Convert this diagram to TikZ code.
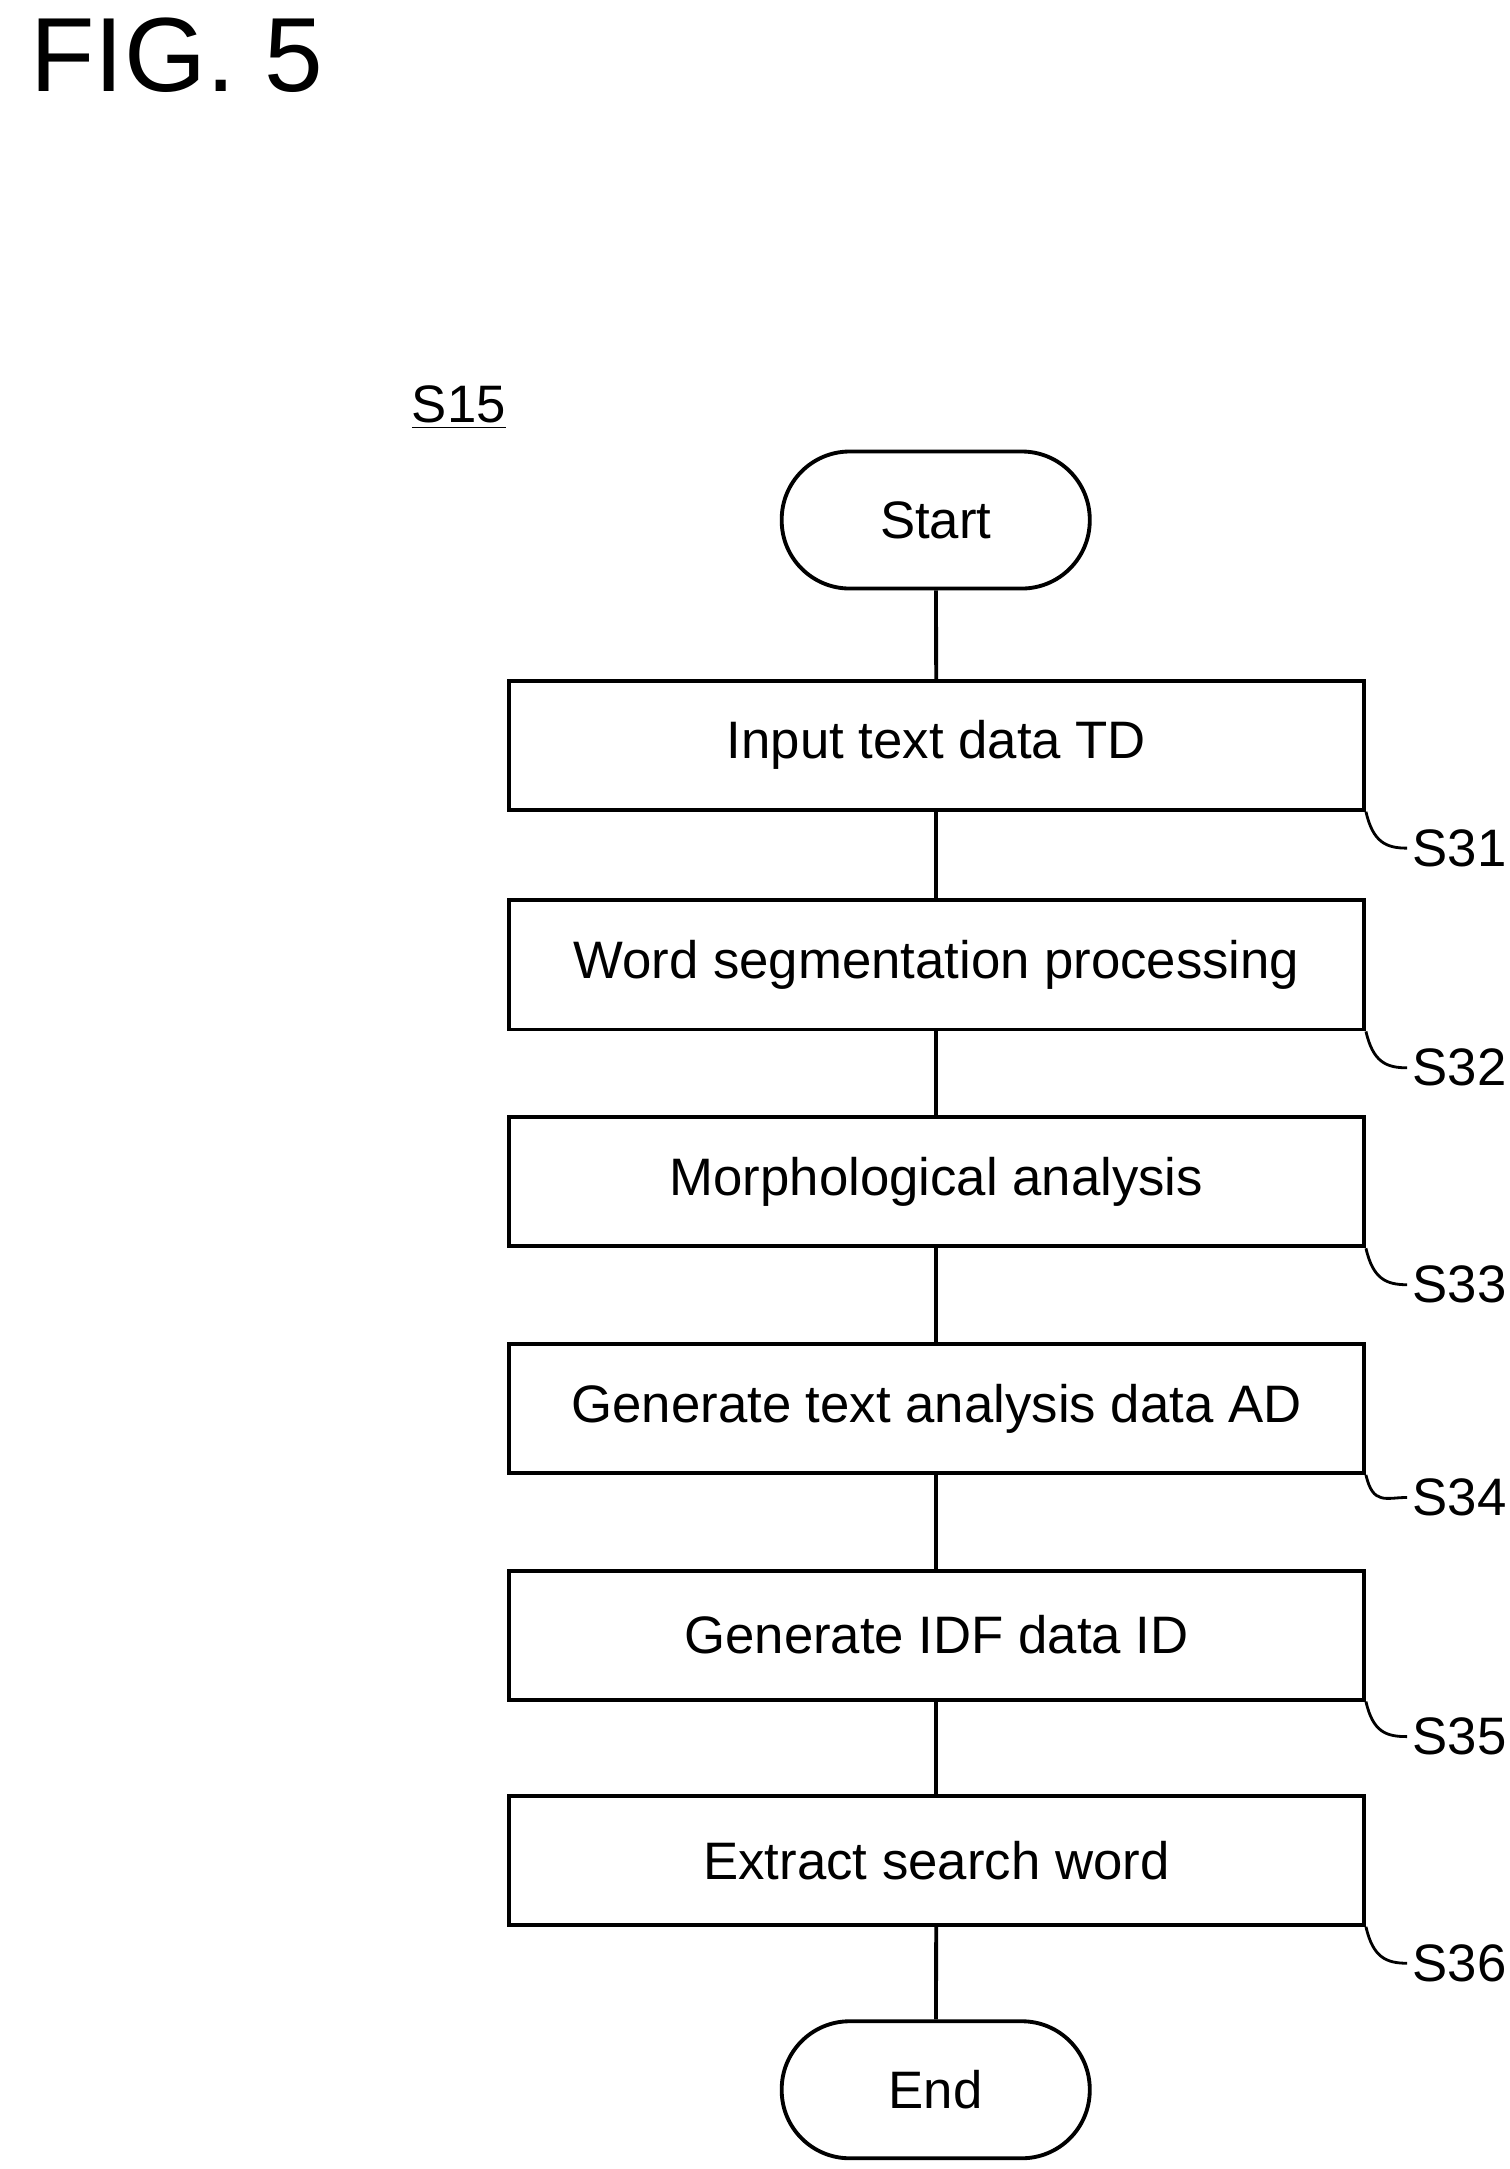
\documentclass[tikz,border=0pt]{standalone}
\usepackage{fontspec}
\setmainfont{Liberation Sans}
\usetikzlibrary{positioning}
\begin{document}
\begin{tikzpicture}[x=0.0139cm, y=-0.0139cm, line width=1.1pt,
  every node/.style={font=\fontsize{15}{18}\selectfont},
  proc/.style={draw, minimum width=8.55cm, minimum height=1.29cm, inner sep=0pt},
  term/.style={draw, rounded corners=0.68cm, minimum width=3.08cm, minimum height=1.37cm},
  tag/.style={inner sep=1pt}]
  \useasboundingbox (0,0) rectangle (1086,1560);

  \node[font=\fontsize{30}{34}\selectfont, anchor=west] (fig) at (12,40) {FIG. 5};
  \node (s15) at (330,293) {\underline{S15}};

  \node[term] (start) at (673,374) {Start};
  \node[proc] (s31) at (673.5,536) {Input text data TD};
  \node[proc] (s32) at (673.5,694) {Word segmentation processing};
  \node[proc] (s33) at (673.5,850) {Morphological analysis};
  \node[proc] (s34) at (673.5,1013) {Generate text analysis data AD};
  \node[proc] (s35) at (673.5,1176) {Generate IDF data ID};
  \node[proc] (s36) at (673.5,1338) {Extract search word};
  \node[term] (end) at (673,1503) {End};

  \draw (start) -- (s31);
  \draw (s31) -- (s32);
  \draw (s32) -- (s33);
  \draw (s33) -- (s34);
  \draw (s34) -- (s35);
  \draw (s35) -- (s36);
  \draw (s36) -- (end);

  % step labels
  \foreach \s/\y in {s31/610, s32/768, s33/924, s34/1077, s35/1249, s36/1412} {
    \node[tag, anchor=west] (l\s) at (1012,\y) {\MakeUppercase{\s}};
    \draw[line width=0.8pt] (\s.south east) .. controls +(5,22) and +(-15,0) .. (l\s.west);
  }
\end{tikzpicture}
\end{document}
